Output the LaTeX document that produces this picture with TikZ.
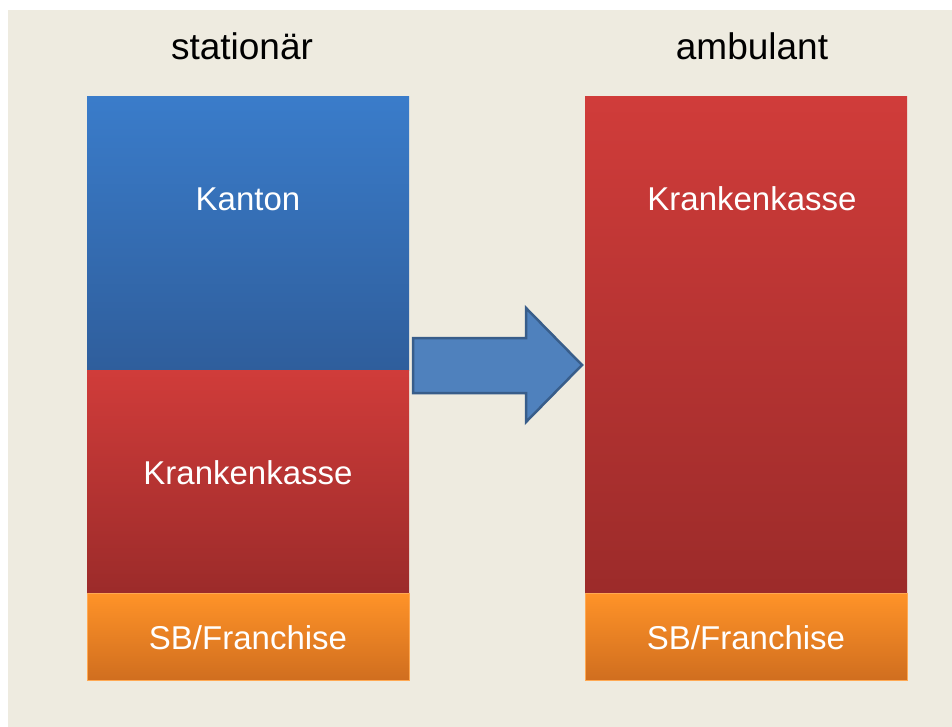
\documentclass[tikz,border=0pt]{standalone}
\usepackage{fontspec}
\setmainfont{Liberation Sans}
\usepackage{xcolor}
\usepackage{tikz}
\usetikzlibrary{positioning}
\definecolor{bg}{HTML}{EEEBE0}
\definecolor{bluetop}{HTML}{3A7CCA}
\definecolor{bluebot}{HTML}{2F5E9C}
\definecolor{redtop}{HTML}{D03C3A}
\definecolor{redbot}{HTML}{9C2B2A}
\definecolor{orangetop}{HTML}{FF9328}
\definecolor{orangebot}{HTML}{D06E1F}
\definecolor{arrowfill}{HTML}{4F81BD}
\definecolor{arrowline}{HTML}{385D8A}

\tikzset{
  lbl/.style={text=white,font=\fontsize{33}{40}\selectfont,inner sep=0pt,anchor=base},
  ttl/.style={text=black,font=\fontsize{37}{44}\selectfont,inner sep=0pt,anchor=base}
}

\begin{document}
\begin{tikzpicture}[x=1pt,y=1pt]
\useasboundingbox (0,-727) rectangle (952,0);
\fill[white] (0,-727) rectangle (952,0);
\fill[bg] (8,-727) rectangle (952,-10);
% stationaer
\shade[top color=bluetop,bottom color=bluebot] (87,-97) rectangle (409,-370);
\shade[top color=redtop,bottom color=redbot] (87,-370) rectangle (409,-593);
\shade[top color=orangetop,bottom color=orangebot] (87,-593) rectangle (409,-680);
\draw[orangetop!80!white,line width=0.8pt] (87,-593) rectangle (409,-680);
% ambulant
\shade[top color=redtop,bottom color=redbot] (585,-97) rectangle (907,-593);
\shade[top color=orangetop,bottom color=orangebot] (585,-593) rectangle (907,-680);
\draw[orangetop!80!white,line width=0.8pt] (585,-593) rectangle (907,-680);
% Pfeil
\draw[arrowline,fill=arrowfill,line width=2.5pt,line join=miter]
  (413,-338)--(526,-338)--(526,-308)--(582,-365)--(526,-422)--(526,-393)--(413,-393)--cycle;
\node[ttl] (stat) at (242,-60) {stationär};
\node[ttl] (amb) at (752,-60) {ambulant};
\node[lbl] (kanton) at (248,-211) {Kanton};
\node[lbl] (kkl) at (248,-484) {Krankenkasse};
\node[lbl] (sbl) at (248,-649) {SB/Franchise};
\node[lbl] (kkr) at (752,-211) {Krankenkasse};
\node[lbl] (sbr) at (746,-649) {SB/Franchise};
\end{tikzpicture}
\end{document}
